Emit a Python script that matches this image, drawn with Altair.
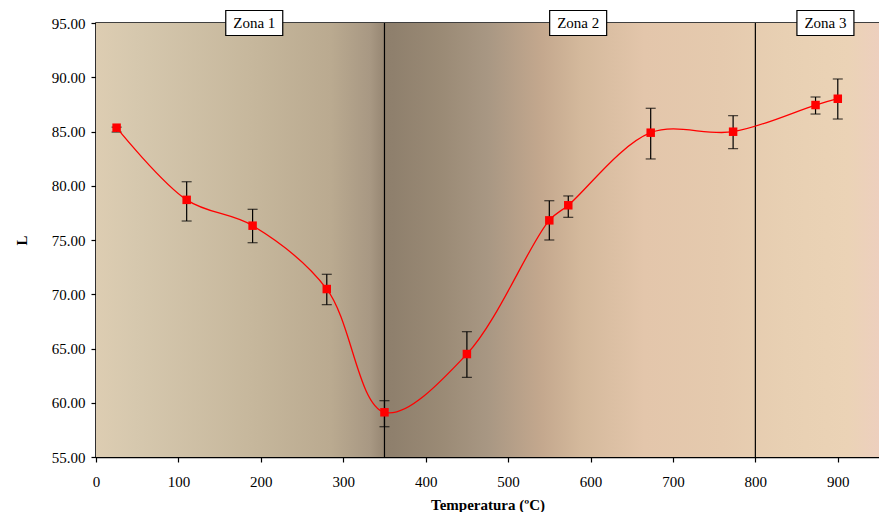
import altair as alt
import pandas as pd

# measured data
temp = [25, 110, 190, 280, 350, 450, 550, 573, 673, 773, 873, 900]
L_val = [85.35, 78.7, 76.32, 70.48, 59.12, 64.49, 76.81, 78.2, 84.89, 84.98, 87.44, 88.02]
L_lo = [84.95, 76.75, 74.75, 69.04, 57.79, 62.34, 75.0, 77.09, 82.47, 83.42, 86.61, 86.15]
L_hi = [85.4, 80.37, 77.83, 71.84, 60.19, 66.55, 78.62, 79.06, 87.14, 86.46, 88.18, 89.84]

zone_bounds = [350, 800]
zone_names = ["Zona 1", "Zona 2", "Zona 3"]
zone_label_x = [192, 585, 885]

x_ticks = [0, 100, 200, 300, 400, 500, 600, 700, 800, 900]
y_ticks = [55, 60, 65, 70, 75, 80, 85, 90, 95]

grad_offsets = [0.0, 0.05, 0.2, 0.3, 0.35, 0.368, 0.369, 0.38, 0.44, 0.5, 0.57, 0.62, 0.7, 0.8, 0.88, 0.96, 1.0]
grad_colors = ["#DDCDB2", "#D6C8AE", "#C6B79C", "#BAAA90", "#A89883", "#978773", "#8E7F6C", "#8F806D",
               "#9A8A75", "#A89783", "#C4A88E", "#D4B99C", "#E3C6AB", "#E5CAAE", "#E8D0B3", "#EBD3B6", "#EDCFBE"]

df = pd.DataFrame({"T": temp, "L": L_val, "lo": L_lo, "hi": L_hi})
zones = pd.DataFrame({"b": zone_bounds})
labels = pd.DataFrame({"x": zone_label_x, "name": zone_names})
bg = pd.DataFrame({"x0": [0], "x1": [950], "y0": [55], "y1": [95]})

FONT = "Liberation Serif"
xscale = alt.Scale(domain=[0, 950], nice=False, zero=False)
yscale = alt.Scale(domain=[55, 95], nice=False, zero=False)

xaxis = alt.Axis(values=x_ticks, title="Temperatura (ºC)", grid=False, tickSize=5,
                 labelPadding=12, titlePadding=8, labelFlush=False)
yaxis = alt.Axis(values=y_ticks, format=".2f", title="L", grid=False, tickSize=5,
                 labelPadding=6, titlePadding=22)

gradient = alt.LinearGradient(
    gradient="linear", x1=0, x2=1, y1=0, y2=0,
    stops=[alt.GradientStop(offset=o, color=c) for o, c in zip(grad_offsets, grad_colors)],
)

background = alt.Chart(bg).mark_rect(fill=gradient).encode(
    x=alt.X("x0:Q", scale=xscale, axis=xaxis),
    x2="x1:Q",
    y=alt.Y("y0:Q", scale=yscale, axis=yaxis),
    y2="y1:Q",
)

rules = alt.Chart(zones).mark_rule(color="black", strokeWidth=1.2).encode(
    x=alt.X("b:Q", scale=xscale)
)

errbars = alt.Chart(df).mark_errorbar(
    ticks={"size": 10, "thickness": 1.2, "color": "black"}, color="black", thickness=1.2
).encode(
    x=alt.X("T:Q", scale=xscale),
    y=alt.Y("lo:Q", scale=yscale, title="L"),
    y2="hi:Q",
)

line = alt.Chart(df).mark_line(color="#FF0000", strokeWidth=1.3, interpolate="catmull-rom").encode(
    x=alt.X("T:Q", scale=xscale),
    y=alt.Y("L:Q", scale=yscale),
)

points = alt.Chart(df).mark_square(color="#FF0000", size=72, opacity=1, filled=True).encode(
    x=alt.X("T:Q", scale=xscale),
    y=alt.Y("L:Q", scale=yscale),
)

boxes = alt.Chart(labels).mark_rect(width=57, height=25, fill="white", stroke="black", strokeWidth=1.2, clip=False).encode(
    x=alt.X("x:Q", scale=xscale),
    y=alt.datum(95, scale=yscale),
)

texts = alt.Chart(labels).mark_text(font=FONT, fontSize=15, color="black", baseline="middle", align="center").encode(
    x=alt.X("x:Q", scale=xscale),
    y=alt.datum(95, scale=yscale),
    text="name:N",
)

chart = alt.layer(background, rules, errbars, line, points, boxes, texts).properties(
    width=783, height=434,
    autosize=alt.AutoSizeParams(type="none"),
    padding={"left": 88, "top": 15, "right": 0, "bottom": 55},
    background="white",
).configure_view(
    stroke="black", strokeWidth=1.5
).configure_axis(
    labelFont=FONT, titleFont=FONT, labelFontSize=15, titleFontSize=15,
    labelColor="black", titleColor="black", domainColor="black", tickColor="black",
    domainWidth=1.5, tickWidth=1.2, titleFontWeight="bold",
)

chart.save("out.html", embed_options={"renderer": "svg", "actions": False})
